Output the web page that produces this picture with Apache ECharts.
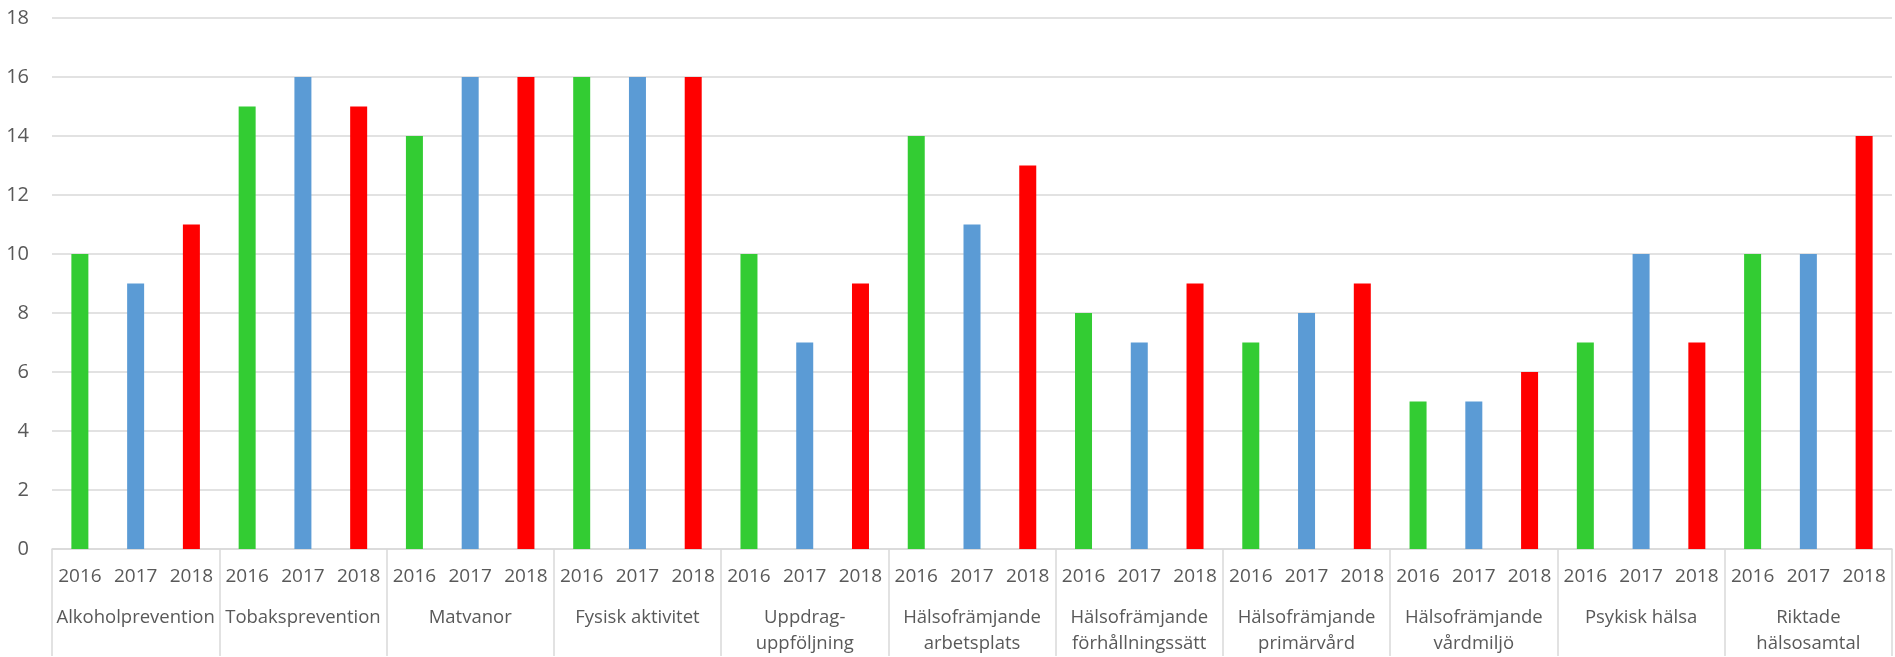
<!DOCTYPE html>
<html>
<head>
<meta charset="utf-8">
<script src="https://cdn.jsdelivr.net/npm/echarts@6/dist/echarts.min.js"></script>
<style>
html,body{margin:0;padding:0;background:#fff;}
#chart{width:1895px;height:657px;}
</style>
</head>
<body>
<div id="chart"></div>
<script>
const groups = ["Alkoholprevention","Tobaksprevention","Matvanor","Fysisk aktivitet","Uppdrag-\nuppföljning","Hälsofrämjande\narbetsplats","Hälsofrämjande\nförhållningssätt","Hälsofrämjande\nprimärvård","Hälsofrämjande\nvårdmiljö","Psykisk hälsa","Riktade\nhälsosamtal"];
const years = ["2016","2017","2018"];
const values2016 = [10,15,14,16,10,14,8,7,5,7,10];
const values2017 = [9,16,16,16,7,11,7,8,5,10,10];
const values2018 = [11,15,16,16,9,13,9,9,6,7,14];
const yearColors = ["#33CC33","#5B9BD5","#FF0000"];

const byYear = [values2016, values2017, values2018];
const cats = [];
const data = [];
groups.forEach((g, gi) => {
  years.forEach((y, yi) => {
    cats.push(y);
    data.push({value: byYear[yi][gi], itemStyle: {color: yearColors[yi]}});
  });
});

const font = "'Open Sans', 'Liberation Sans', sans-serif";
const chart = echarts.init(document.getElementById('chart'), null, {renderer: 'canvas'});
chart.setOption({
  animation: false,
  grid: {left: 52, right: 3, top: 18, bottom: 107, containLabel: false},
  xAxis: [
    {
      type: 'category', data: cats, position: 'bottom',
      axisLine: {show: true, lineStyle: {color: '#d9d9d9', width: 1.5}},
      axisTick: {show: false},
      axisLabel: {interval: 0, color: '#595959', fontFamily: font, fontSize: 19, lineHeight: 19, margin: 18}
    },
    {
      type: 'category', data: groups, position: 'bottom',
      axisLine: {show: false},
      axisTick: {show: true, interval: 0, length: 107, lineStyle: {color: '#d9d9d9', width: 1.5}},
      axisLabel: {interval: 0, color: '#595959', fontFamily: font, fontSize: 18.5, lineHeight: 26, margin: 56}
    }
  ],
  yAxis: {
    type: 'value', min: 0, max: 18, interval: 2,
    axisLine: {show: false}, axisTick: {show: false},
    axisLabel: {color: '#595959', fontFamily: font, fontSize: 20, margin: 23},
    splitLine: {lineStyle: {color: '#d9d9d9', width: 1.5}}
  },
  series: [{
    type: 'bar', xAxisIndex: 0, data: data, barWidth: 17
  }]
});
</script>
</body>
</html>
